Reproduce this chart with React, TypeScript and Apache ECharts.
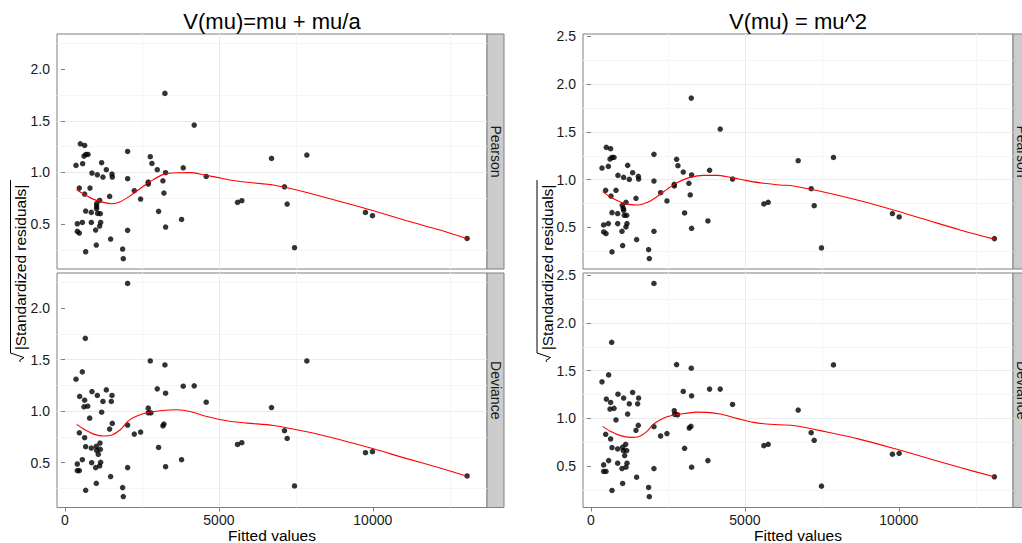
import { useEffect, useRef } from "react";
import * as echarts from "echarts";

type Pt = [number, number];

// Axis breaks and labels
const xTicks = [0, 5000, 10000];
const yTicksNB = [0.5, 1.0, 1.5, 2.0];
const yTicksGamma = [0.5, 1.0, 1.5, 2.0, 2.5];
const titles = ["V(mu)=mu + mu/a", "V(mu) = mu^2"];
const stripLabels = ["Pearson", "Deviance"];
const xLabel = "Fitted values";
const yLabel = "|Standardized residuals|";

// sqrt(|standardized residual|) against fitted value, variance = mu + mu/a
const pearsonNB: Pt[] = [
  [357, 1.068], [498, 1.277], [638, 1.261], [617, 1.158], [682, 1.174], [747, 1.174], [573, 1.084],
  [465, 0.848], [638, 0.79], [812, 0.848], [876, 0.994], [1050, 0.977], [1190, 1.094], [1233, 0.955],
  [1342, 1.026], [1526, 0.984], [1536, 0.955], [1125, 0.729], [1450, 0.768], [671, 0.626], [855, 0.613],
  [1027, 0.697], [1027, 0.671], [1027, 0.648], [1060, 0.603], [1147, 0.6], [400, 0.503], [563, 0.516],
  [855, 0.516], [1158, 0.516], [1125, 0.481], [995, 0.442], [400, 0.429], [465, 0.413], [671, 0.232],
  [1017, 0.297], [1482, 0.355], [2034, 1.203], [2034, 0.939], [2034, 0.439], [1872, 0.258], [1894, 0.165],
  [2251, 0.823], [2456, 0.742], [2770, 1.152], [2824, 1.087], [2705, 0.906], [2705, 0.887], [2997, 1.026],
  [3040, 0.623], [3181, 0.919], [3214, 0.8], [3268, 0.997], [3246, 1.765], [3268, 0.471], [3787, 0.545],
  [3841, 1.045], [4198, 1.458], [4588, 0.961], [5605, 0.71], [5745, 0.726], [6709, 1.135], [7857, 1.168],
  [7131, 0.861], [7218, 0.694], [7456, 0.271], [9762, 0.613], [9989, 0.581], [13063, 0.361],
];

const devianceNB: Pt[] = [
  [357, 1.31], [476, 1.142], [563, 1.381], [660, 1.706], [638, 1.106], [617, 1.042], [736, 1.048],
  [801, 0.932], [876, 1.19], [1050, 1.152], [1190, 0.99], [1233, 1.094], [1342, 1.206], [1526, 1.152],
  [1504, 1.094], [1536, 0.881], [1450, 0.826], [465, 0.79], [638, 0.742], [671, 0.655], [855, 0.642],
  [1017, 0.658], [1028, 0.619], [1082, 0.581], [1136, 0.69], [1147, 0.629], [1158, 0.503], [1125, 0.468],
  [995, 0.452], [866, 0.5], [563, 0.529], [400, 0.487], [400, 0.423], [465, 0.423], [671, 0.232],
  [1017, 0.3], [1482, 0.365], [2034, 2.239], [2034, 0.865], [2034, 0.452], [1872, 0.258], [1894, 0.171],
  [2251, 0.777], [2456, 0.797], [2770, 1.487], [2997, 1.216], [2705, 1.029], [2705, 0.984], [2792, 0.984],
  [3040, 0.648], [3181, 0.858], [3214, 0.874], [3246, 1.448], [3268, 1.174], [3268, 0.461], [3787, 0.529],
  [3841, 1.242], [4198, 1.245], [4588, 1.087], [5605, 0.677], [5745, 0.694], [6709, 1.035], [7857, 1.487],
  [7131, 0.81], [7218, 0.735], [7456, 0.274], [9762, 0.597], [9989, 0.606], [13063, 0.371],
];

// Same diagnostics, variance = mu^2
const pearsonGamma: Pt[] = [
  [357, 1.122], [498, 1.338], [638, 1.324], [563, 1.139], [617, 1.216], [682, 1.233], [747, 1.233],
  [476, 0.889], [649, 0.829], [812, 0.889], [876, 1.045], [1060, 1.024], [1190, 1.15], [1244, 1.003],
  [1353, 1.073], [1536, 1.035], [1547, 1.007], [1136, 0.763], [1461, 0.805], [682, 0.655], [866, 0.645],
  [1017, 0.73], [1050, 0.7], [1060, 0.68], [1082, 0.627], [1158, 0.627], [411, 0.526], [563, 0.54],
  [866, 0.54], [1169, 0.54], [1136, 0.505], [1006, 0.46], [411, 0.453], [487, 0.436], [682, 0.244],
  [1028, 0.31], [1482, 0.373], [2045, 1.265], [2045, 0.986], [2045, 0.46], [1872, 0.268], [1894, 0.174],
  [2261, 0.864], [2467, 0.777], [2781, 1.213], [2824, 1.146], [2705, 0.951], [2705, 0.934], [2997, 1.08],
  [3040, 0.652], [3181, 0.962], [3224, 0.84], [3268, 1.049], [3257, 1.854], [3268, 0.491], [3798, 0.568],
  [3852, 1.098], [4198, 1.53], [4599, 1.007], [5616, 0.746], [5756, 0.763], [6731, 1.199], [7878, 1.233],
  [7153, 0.906], [7251, 0.728], [7488, 0.286], [9793, 0.645], [10011, 0.61], [13105, 0.383],
];

const devianceGamma: Pt[] = [
  [357, 1.383], [573, 1.456], [671, 1.798], [498, 1.202], [638, 1.167], [617, 1.098], [747, 1.105],
  [812, 0.983], [876, 1.254], [1060, 1.213], [1190, 1.045], [1244, 1.153], [1353, 1.272], [1515, 1.153],
  [1547, 1.213], [1536, 0.927], [1461, 0.875], [476, 0.833], [638, 0.784], [682, 0.693], [866, 0.679],
  [1028, 0.697], [1050, 0.662], [1125, 0.728], [1158, 0.662], [1093, 0.61], [1169, 0.53], [1136, 0.488],
  [1006, 0.474], [866, 0.53], [573, 0.557], [411, 0.512], [411, 0.443], [487, 0.443], [682, 0.244],
  [1028, 0.317], [1482, 0.383], [2045, 2.415], [2045, 0.913], [2045, 0.474], [1872, 0.275], [1894, 0.178],
  [2261, 0.815], [2467, 0.84], [2781, 1.564], [2997, 1.282], [2705, 1.08], [2716, 1.042], [2813, 1.038],
  [3040, 0.686], [3192, 0.899], [3246, 0.916], [3257, 1.526], [3268, 1.237], [3268, 0.488], [3798, 0.557],
  [3852, 1.307], [4198, 1.307], [4599, 1.146], [5616, 0.714], [5756, 0.728], [6731, 1.087], [7878, 1.561],
  [7153, 0.85], [7251, 0.77], [7488, 0.289], [9793, 0.624], [10011, 0.634], [13105, 0.387],
];

// Loess smooths through each panel
const smoothPearsonNB: Pt[] = [
  [379, 0.832], [606, 0.79], [931, 0.739], [1255, 0.71], [1526, 0.697], [1796, 0.716], [2121, 0.774],
  [2445, 0.845], [2770, 0.913], [3203, 0.981], [3636, 0.997], [4068, 0.998], [4501, 0.977], [4934, 0.952],
  [5475, 0.922], [6000, 0.902], [6774, 0.878], [7857, 0.806], [8939, 0.719], [10021, 0.629], [11104, 0.532],
  [12186, 0.442], [13063, 0.358],
];
const smoothDevianceNB: Pt[] = [
  [379, 0.871], [606, 0.826], [931, 0.777], [1255, 0.758], [1526, 0.768], [1796, 0.819], [1980, 0.88],
  [2100, 0.915], [2337, 0.952], [2662, 0.984], [3095, 1.003], [3636, 1.013], [4068, 0.997], [4609, 0.948],
  [5259, 0.906], [5908, 0.884], [6774, 0.861], [7857, 0.8], [8939, 0.723], [10021, 0.635], [11104, 0.539],
  [12186, 0.448], [13063, 0.368],
];
const smoothPearsonGamma: Pt[] = [
  [379, 0.875], [628, 0.819], [952, 0.767], [1277, 0.739], [1547, 0.735], [1818, 0.76], [2142, 0.822],
  [2467, 0.899], [2792, 0.969], [3224, 1.024], [3657, 1.045], [4090, 1.045], [4523, 1.024], [5064, 0.99],
  [5605, 0.962], [6146, 0.945], [6579, 0.934], [7663, 0.864], [8744, 0.78], [9826, 0.683], [10910, 0.578],
  [11991, 0.474], [13105, 0.378],
];
const smoothDevianceGamma: Pt[] = [
  [379, 0.916], [628, 0.864], [952, 0.819], [1277, 0.801], [1547, 0.808], [1818, 0.864], [2000, 0.93],
  [2142, 0.965], [2467, 1.017], [2900, 1.045], [3441, 1.066], [3765, 1.063], [4198, 1.045], [4739, 1.0],
  [5280, 0.958], [5821, 0.938], [6579, 0.925], [7663, 0.857], [8744, 0.78], [9826, 0.686], [10910, 0.585],
  [11991, 0.484], [13105, 0.387],
];

const FONT = "'Liberation Sans', Arial, Helvetica, sans-serif";
const TEXT = "#1a1a1a";
const BORDER = "#7f7f7f";

const X_MIN = -260;
const X_MAX = 13710;

const PANEL_W = 430;
const COL_LEFT = [57, 583];
const ROW_TOP = [34, 273];
const ROW_H = [235, 234.5];

const panels = [
  { col: 0, row: 0, points: pearsonNB, smooth: smoothPearsonNB, yTicks: yTicksNB, yMax: 2.34 },
  { col: 0, row: 1, points: devianceNB, smooth: smoothDevianceNB, yTicks: yTicksNB, yMax: 2.34 },
  { col: 1, row: 0, points: pearsonGamma, smooth: smoothPearsonGamma, yTicks: yTicksGamma, yMax: 2.525 },
  { col: 1, row: 1, points: devianceGamma, smooth: smoothDevianceGamma, yTicks: yTicksGamma, yMax: 2.525 },
];

function buildOption() {
  const grid = panels.map((p) => ({
    left: COL_LEFT[p.col],
    top: ROW_TOP[p.row],
    width: PANEL_W,
    height: ROW_H[p.row],
    show: true,
    backgroundColor: "#ffffff",
    borderColor: BORDER,
    borderWidth: 1,
  }));

  const xAxis = panels.map((p, i) => {
    const bottom = p.row === 1;
    return {
      type: "value",
      gridIndex: i,
      min: X_MIN,
      max: X_MAX,
      splitNumber: 3,
      axisLine: { show: false },
      axisTick: {
        show: bottom,
        customValues: xTicks,
        length: 4,
        lineStyle: { color: BORDER, width: 1 },
      },
      axisLabel: {
        show: bottom,
        customValues: xTicks,
        formatter: (v: number) => String(v),
        margin: 5,
        fontSize: 14,
        fontFamily: FONT,
        color: TEXT,
      },
      splitLine: {
        show: true,
        showMinLine: false,
        showMaxLine: false,
        lineStyle: { color: "#ebebeb", width: 1 },
      },
      minorTick: { show: false, splitNumber: 2 },
      minorSplitLine: { show: true, lineStyle: { color: "#f5f5f5", width: 1 } },
    };
  });

  const yAxis = panels.map((p, i) => ({
    type: "value",
    gridIndex: i,
    min: 0.065,
    max: p.yMax,
    splitNumber: 5,
    axisLine: { show: false },
    axisTick: {
      show: true,
      customValues: p.yTicks,
      length: 4,
      lineStyle: { color: BORDER, width: 1 },
    },
    axisLabel: {
      show: true,
      customValues: p.yTicks,
      formatter: (v: number) => v.toFixed(1),
      margin: 7,
      fontSize: 14,
      fontFamily: FONT,
      color: TEXT,
    },
    splitLine: {
      show: true,
      showMinLine: false,
      showMaxLine: false,
      lineStyle: { color: "#ebebeb", width: 1 },
    },
    minorTick: { show: false, splitNumber: 2 },
    minorSplitLine: { show: true, lineStyle: { color: "#f5f5f5", width: 1 } },
  }));

  const series: any[] = [];
  panels.forEach((p, i) => {
    series.push({
      type: "scatter",
      xAxisIndex: i,
      yAxisIndex: i,
      data: p.points,
      symbol: "circle",
      symbolSize: 5.5,
      itemStyle: { color: "#000000" },
      silent: true,
      z: 2,
    });
    series.push({
      type: "line",
      xAxisIndex: i,
      yAxisIndex: i,
      data: p.smooth,
      smooth: 0.3,
      showSymbol: false,
      symbol: "none",
      lineStyle: { color: "#ff0000", width: 1.1 },
      silent: true,
      z: 3,
    });
  });

  const graphic: any[] = [];

  titles.forEach((t, c) => {
    // panel title
    graphic.push({
      type: "text",
      x: COL_LEFT[c] + PANEL_W / 2,
      y: 21,
      style: {
        text: t,
        fontSize: 22,
        fontFamily: FONT,
        fill: "#000",
        align: "center",
        verticalAlign: "middle",
      },
    });
    // x axis title
    graphic.push({
      type: "text",
      x: COL_LEFT[c] + PANEL_W / 2,
      y: 535,
      style: {
        text: xLabel,
        fontSize: 15.5,
        fontFamily: FONT,
        fill: "#000",
        align: "center",
        verticalAlign: "middle",
      },
    });
    // y axis title: sqrt(|Standardized residuals|)
    const off = c === 0 ? 0 : 526.5;
    graphic.push({
      type: "text",
      x: 20.5 + off,
      y: 267.5,
      rotation: Math.PI / 2,
      style: {
        text: yLabel,
        fontSize: 15.5,
        fontFamily: FONT,
        fill: "#000",
        align: "center",
        verticalAlign: "middle",
      },
    });
    graphic.push({
      type: "polyline",
      shape: {
        points: [
          [10.5 + off, 180],
          [10.5 + off, 353],
          [24 + off, 357.5],
          [19.5 + off, 360.5],
          [20.5 + off, 362],
        ],
      },
      style: { stroke: "#000", lineWidth: 1, fill: "none" },
    });
  });

  // Facet strips on the right of each panel
  panels.forEach((p) => {
    const x = COL_LEFT[p.col] + PANEL_W;
    const y = ROW_TOP[p.row];
    const h = ROW_H[p.row];
    graphic.push({
      type: "rect",
      shape: { x, y, width: 17, height: h },
      style: { fill: "#cccccc", stroke: BORDER, lineWidth: 1 },
    });
    graphic.push({
      type: "text",
      x: x + 8.5,
      y: y + h / 2,
      rotation: -Math.PI / 2,
      style: {
        text: stripLabels[p.row],
        fontSize: 14,
        fontFamily: FONT,
        fill: "#1a1a1a",
        align: "center",
        verticalAlign: "middle",
      },
    });
  });

  return {
    animation: false,
    backgroundColor: "#ffffff",
    grid,
    xAxis,
    yAxis,
    series,
    graphic,
  };
}

export default function App() {
  const ref = useRef<HTMLDivElement>(null);
  useEffect(() => {
    if (!ref.current) return;
    const chart = echarts.init(ref.current, undefined, { renderer: "svg" });
    chart.setOption(buildOption() as any);
    return () => chart.dispose();
  }, []);
  return (
    <div
      ref={ref}
      style={{ position: "absolute", left: 0, top: 0, width: 1022, height: 543, background: "#fff" }}
    />
  );
}
